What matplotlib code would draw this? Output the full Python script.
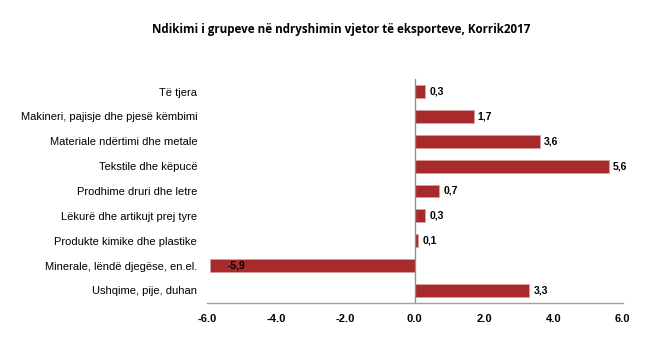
import matplotlib
matplotlib.use("Agg")
import matplotlib.pyplot as plt
import numpy as np

categories = [
    "Të tjera",
    "Makineri, pajisje dhe pjesë këmbimi",
    "Materiale ndërtimi dhe metale",
    "Tekstile dhe këpucë",
    "Prodhime druri dhe letre",
    "Lëkurë dhe artikujt prej tyre",
    "Produkte kimike dhe plastike",
    "Minerale, lëndë djegëse, en.el.",
    "Ushqime, pije, duhan",
]
values = [0.3, 1.7, 3.6, 5.6, 0.7, 0.3, 0.1, -5.9, 3.3]
value_labels = ["0,3", "1,7", "3,6", "5,6", "0,7", "0,3", "0,1", "-5,9", "3,3"]
xticks = [-6.0, -4.0, -2.0, 0.0, 2.0, 4.0, 6.0]

plt.rcParams["font.family"] = ["Liberation Sans", "DejaVu Sans"]

fig = plt.figure(figsize=(6.61, 3.58), dpi=100)
ax = fig.add_axes([0.313, 0.154, 0.629, 0.625])

y = np.arange(len(categories))
ax.barh(y, values, height=0.52, color="#A82A2A", edgecolor="#D9A0A0", linewidth=0.6)
ax.set_ylim(len(categories) - 0.5, -0.5)
ax.set_xlim(-6, 6)

for yi, v, lab in zip(y, values, value_labels):
    if v < 0:
        # negative label sits inside the bar near its end
        ax.text(v + 0.5, yi, lab, va="center", ha="left", fontsize=7.5, fontweight="bold")
    else:
        ax.text(v + 0.12, yi, lab, va="center", ha="left", fontsize=7.5, fontweight="bold")

ax.axvline(0, color="#909090", linewidth=1)
ax.set_yticks(y)
ax.set_yticklabels(categories, fontsize=8)
ax.set_xticks(xticks)
ax.set_xticklabels([f"{t:.1f}" for t in xticks], fontsize=8, fontweight="bold")
ax.tick_params(axis="y", length=0, pad=7)
ax.tick_params(axis="x", length=0, pad=8)
for s in ["top", "right", "left"]:
    ax.spines[s].set_visible(False)
ax.spines["bottom"].set_color("#A0A0A0")
ax.spines["bottom"].set_linewidth(1)

fig.text(0.516, 0.918, "Ndikimi i grupeve në ndryshimin vjetor të eksporteve, Korrik2017",
         ha="center", va="center", fontsize=8.4, fontweight="bold",
         family=["Open Sans", "DejaVu Sans"])

fig.savefig("out.png", dpi=100)
